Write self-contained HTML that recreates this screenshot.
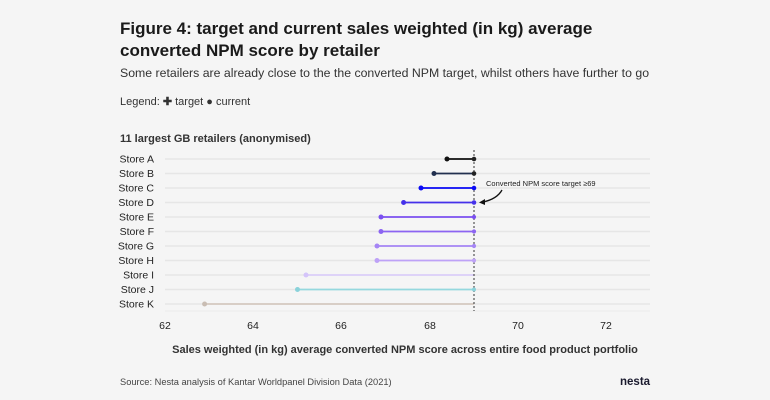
<!DOCTYPE html>
<html><head><style>
body{margin:0;background:#f5f5f5;}
svg{display:block;font-family:"Liberation Sans",sans-serif;}
</style></head><body>
<svg width="770" height="400" viewBox="0 0 770 400">
<rect width="770" height="400" fill="#f5f5f5"/>
<text x="120" y="34" font-size="17" font-weight="bold" fill="#1a1a1a">Figure 4: target and current sales weighted (in kg) average</text>
<text x="120" y="56" font-size="17" font-weight="bold" fill="#1a1a1a">converted NPM score by retailer</text>
<text x="120" y="77" font-size="12.3" fill="#333">Some retailers are already close to the the converted NPM target, whilst others have further to go</text>
<text x="120" y="105" font-size="11" fill="#333">Legend: <tspan font-weight="bold">✚</tspan> target ● current</text>
<text x="120" y="142" font-size="11" font-weight="bold" fill="#333">11 largest GB retailers (anonymised)</text>
<g font-size="10.5" fill="#222" text-anchor="end">
<text x="154" y="162.5">Store A</text><text x="154" y="177">Store B</text><text x="154" y="191.5">Store C</text><text x="154" y="206">Store D</text><text x="154" y="220.5">Store E</text><text x="154" y="235">Store F</text><text x="154" y="249.5">Store G</text><text x="154" y="264">Store H</text><text x="154" y="278.5">Store I</text><text x="154" y="293">Store J</text><text x="154" y="307.5">Store K</text>
</g>
<g stroke="#e6e6e6" stroke-width="1.5">
<line x1="165" x2="650" y1="159" y2="159"/><line x1="165" x2="650" y1="173.5" y2="173.5"/><line x1="165" x2="650" y1="188" y2="188"/><line x1="165" x2="650" y1="202.5" y2="202.5"/><line x1="165" x2="650" y1="217" y2="217"/><line x1="165" x2="650" y1="231.5" y2="231.5"/><line x1="165" x2="650" y1="246" y2="246"/><line x1="165" x2="650" y1="260.5" y2="260.5"/><line x1="165" x2="650" y1="275" y2="275"/><line x1="165" x2="650" y1="289.5" y2="289.5"/><line x1="165" x2="650" y1="304" y2="304"/><line x1="165" x2="650" y1="311" y2="311" stroke="#eee"/>
</g>
<g stroke-width="1.8">
<line x1="447" x2="474" y1="159" y2="159" stroke="#111"/><circle cx="447" cy="159" r="2.5" fill="#111"/>
<line x1="434" x2="474" y1="173.5" y2="173.5" stroke="#22304f"/><circle cx="434" cy="173.5" r="2.5" fill="#22304f"/>
<line x1="421" x2="474" y1="188" y2="188" stroke="#0a0af5"/><circle cx="421" cy="188" r="2.5" fill="#0a0af5"/>
<line x1="403.6" x2="474" y1="202.5" y2="202.5" stroke="#4530ea"/><circle cx="403.6" cy="202.5" r="2.5" fill="#4530ea"/>
<line x1="381" x2="474" y1="217" y2="217" stroke="#7b50f0"/><circle cx="381" cy="217" r="2.5" fill="#7b50f0"/>
<line x1="381" x2="474" y1="231.5" y2="231.5" stroke="#8c64f2"/><circle cx="381" cy="231.5" r="2.5" fill="#8c64f2"/>
<line x1="377" x2="474" y1="246" y2="246" stroke="#a585f5"/><circle cx="377" cy="246" r="2.5" fill="#a585f5"/>
<line x1="377" x2="474" y1="260.5" y2="260.5" stroke="#bea2f7"/><circle cx="377" cy="260.5" r="2.5" fill="#bea2f7"/>
<line x1="306" x2="474" y1="275" y2="275" stroke="#dccffa"/><circle cx="306" cy="275" r="2.5" fill="#d4c4fa"/>
<line x1="297.5" x2="474" y1="289.5" y2="289.5" stroke="#95d8de"/><circle cx="297.5" cy="289.5" r="2.5" fill="#8ad2da"/>
<line x1="204.6" x2="474" y1="304" y2="304" stroke="#d5cac0"/><circle cx="204.6" cy="304" r="2.5" fill="#c9bdb3"/>
</g>
<line x1="474" x2="474" y1="150" y2="311" stroke="#333" stroke-width="1" stroke-dasharray="2,2"/>
<g fill="#222">
<circle cx="474" cy="159" r="2.3"/><circle cx="474" cy="173.5" r="2.3"/><circle cx="474" cy="188" r="2.3" fill="#0a0af5"/><circle cx="474" cy="202.5" r="2.3" fill="#4530ea"/><circle cx="474" cy="217" r="2.1" fill="#7b50f0"/><circle cx="474" cy="231.5" r="2.1" fill="#8c64f2"/><circle cx="474" cy="246" r="2.1" fill="#a585f5"/><circle cx="474" cy="260.5" r="2.1" fill="#bea2f7"/><circle cx="474" cy="289.5" r="2" fill="#8ad2da"/>
</g>
<text x="486" y="186" font-size="7.5" fill="#222">Converted NPM score target ≥69</text>
<path d="M502 190 Q497 199 483 202" fill="none" stroke="#111" stroke-width="1.3"/>
<path d="M479 202.5 L485 199 L485 205 Z" fill="#111"/>
<g font-size="10.5" fill="#222" text-anchor="middle">
<text x="165" y="329">62</text><text x="253" y="329">64</text><text x="341" y="329">66</text><text x="430" y="329">68</text><text x="518" y="329">70</text><text x="606" y="329">72</text>
</g>
<text x="405" y="353" font-size="11" font-weight="bold" fill="#333" text-anchor="middle">Sales weighted (in kg) average converted NPM score across entire food product portfolio</text>
<text x="120" y="385" font-size="9.3" fill="#444">Source: Nesta analysis of Kantar Worldpanel Division Data (2021)</text>
<text x="620" y="385" font-size="11.5" font-weight="bold" fill="#1a1a2e">nesta</text>
</svg>
</body></html>
